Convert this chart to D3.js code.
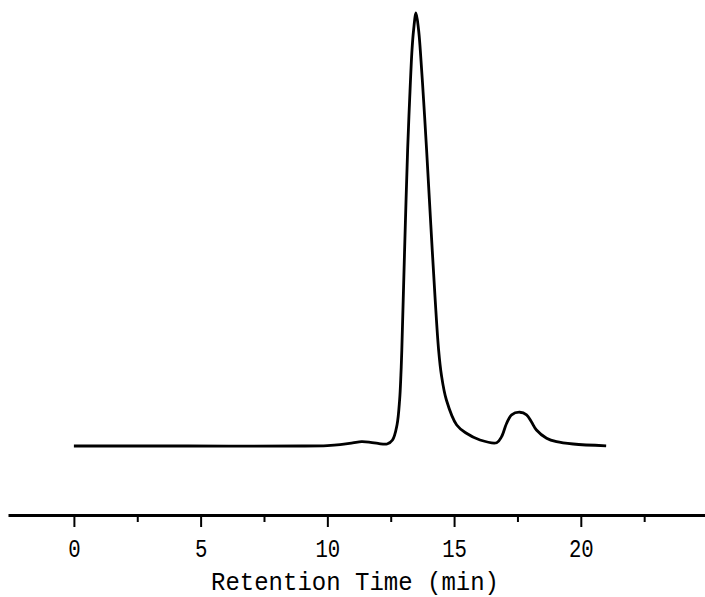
<!DOCTYPE html>
<html>
<head>
<meta charset="utf-8">
<script src="https://cdn.jsdelivr.net/npm/d3@7"></script>
<style>
  body { margin: 0; background: #fff; }
  svg { display: block; }
</style>
</head>
<body>
<svg id="chart"></svg>
<script>
// retention time (min) and detector response (relative, main peak = 100)
const times = [0, 4.5, 9, 10, 10.5, 11, 11.35, 11.7, 12.0, 12.354, 12.571, 12.748, 12.851, 12.902, 12.938, 12.993, 13.076, 13.167, 13.246, 13.34, 13.403, 13.498,
  13.6, 13.667, 13.797, 13.916, 14.082, 14.255, 14.39, 14.5, 14.697, 15.104, 15.471, 16.023, 16.682,
  16.87, 17.07, 17.27, 17.59, 17.86, 18.05, 18.25, 18.65, 19.04, 19.7, 21.0];
const response = [0, 0, 0, 0.1, 0.3, 0.7, 1.0, 0.85, 0.6, 0.46, 1.39, 4.85, 10.62, 16.4, 22.17, 33.72, 51.04, 68.36, 79.91, 91.45, 96.07, 100,
  96.07, 91.45, 79.91, 68.36, 51.04, 33.72, 22.17, 16.4, 10.62, 4.85, 3.0, 1.39, 0.76,
  2.1, 5.2, 7.2, 7.8, 7.2, 5.6, 3.7, 1.8, 1.0, 0.46, 0.05];
const majorTicks = [0, 5, 10, 15, 20];
const minorTicks = [2.5, 7.5, 12.5, 17.5, 22.5];
const xTitle = 'Retention Time (min)';

const width = 705, height = 597;
const svg = d3.select('#chart').attr('width', width).attr('height', height);

const x = d3.scaleLinear().domain([-2.6, 24.9]).range([8, 705]);
const y = d3.scaleLinear().domain([0, 100]).range([446, 13]);
const axisY = 515;

const points = times.map((t, i) => [t, response[i]]);

const line = d3.line()
  .x(d => x(d[0]))
  .y(d => y(d[1]))
  .curve(d3.curveCatmullRom.alpha(0.5));

svg.append('path')
  .datum(points)
  .attr('fill', 'none')
  .attr('stroke', '#000')
  .attr('stroke-width', 2.8)
  .attr('stroke-linejoin', 'round')
  .attr('d', line);

// minor ticks first, then the major axis on top
svg.append('g')
  .attr('transform', `translate(0,${axisY})`)
  .call(d3.axisBottom(x).tickValues(minorTicks).tickSize(7).tickFormat(''))
  .call(g => g.select('.domain').remove())
  .call(g => g.selectAll('line').attr('stroke', '#000').attr('stroke-width', 2));

const xAxis = svg.append('g')
  .attr('transform', `translate(0,${axisY})`)
  .call(d3.axisBottom(x).tickValues(majorTicks).tickSize(12).tickSizeOuter(0));

xAxis.select('.domain').attr('stroke', '#000').attr('stroke-width', 2.8);
xAxis.selectAll('line').attr('stroke', '#000').attr('stroke-width', 2);
xAxis.selectAll('text')
  .attr('y', 42)
  .attr('dy', 0)
  .attr('fill', '#000')
  .attr('font-family', '"Liberation Mono", "DejaVu Sans Mono", monospace')
  .attr('font-size', 25)
  .attr('textLength', d => String(d).length * 12.4)
  .attr('lengthAdjust', 'spacingAndGlyphs');

svg.append('text')
  .attr('x', 355)
  .attr('y', 590)
  .attr('text-anchor', 'middle')
  .attr('font-family', '"Liberation Mono", "DejaVu Sans Mono", monospace')
  .attr('font-size', 26)
  .attr('textLength', 288)
  .attr('lengthAdjust', 'spacingAndGlyphs')
  .text(xTitle);
</script>
</body>
</html>
